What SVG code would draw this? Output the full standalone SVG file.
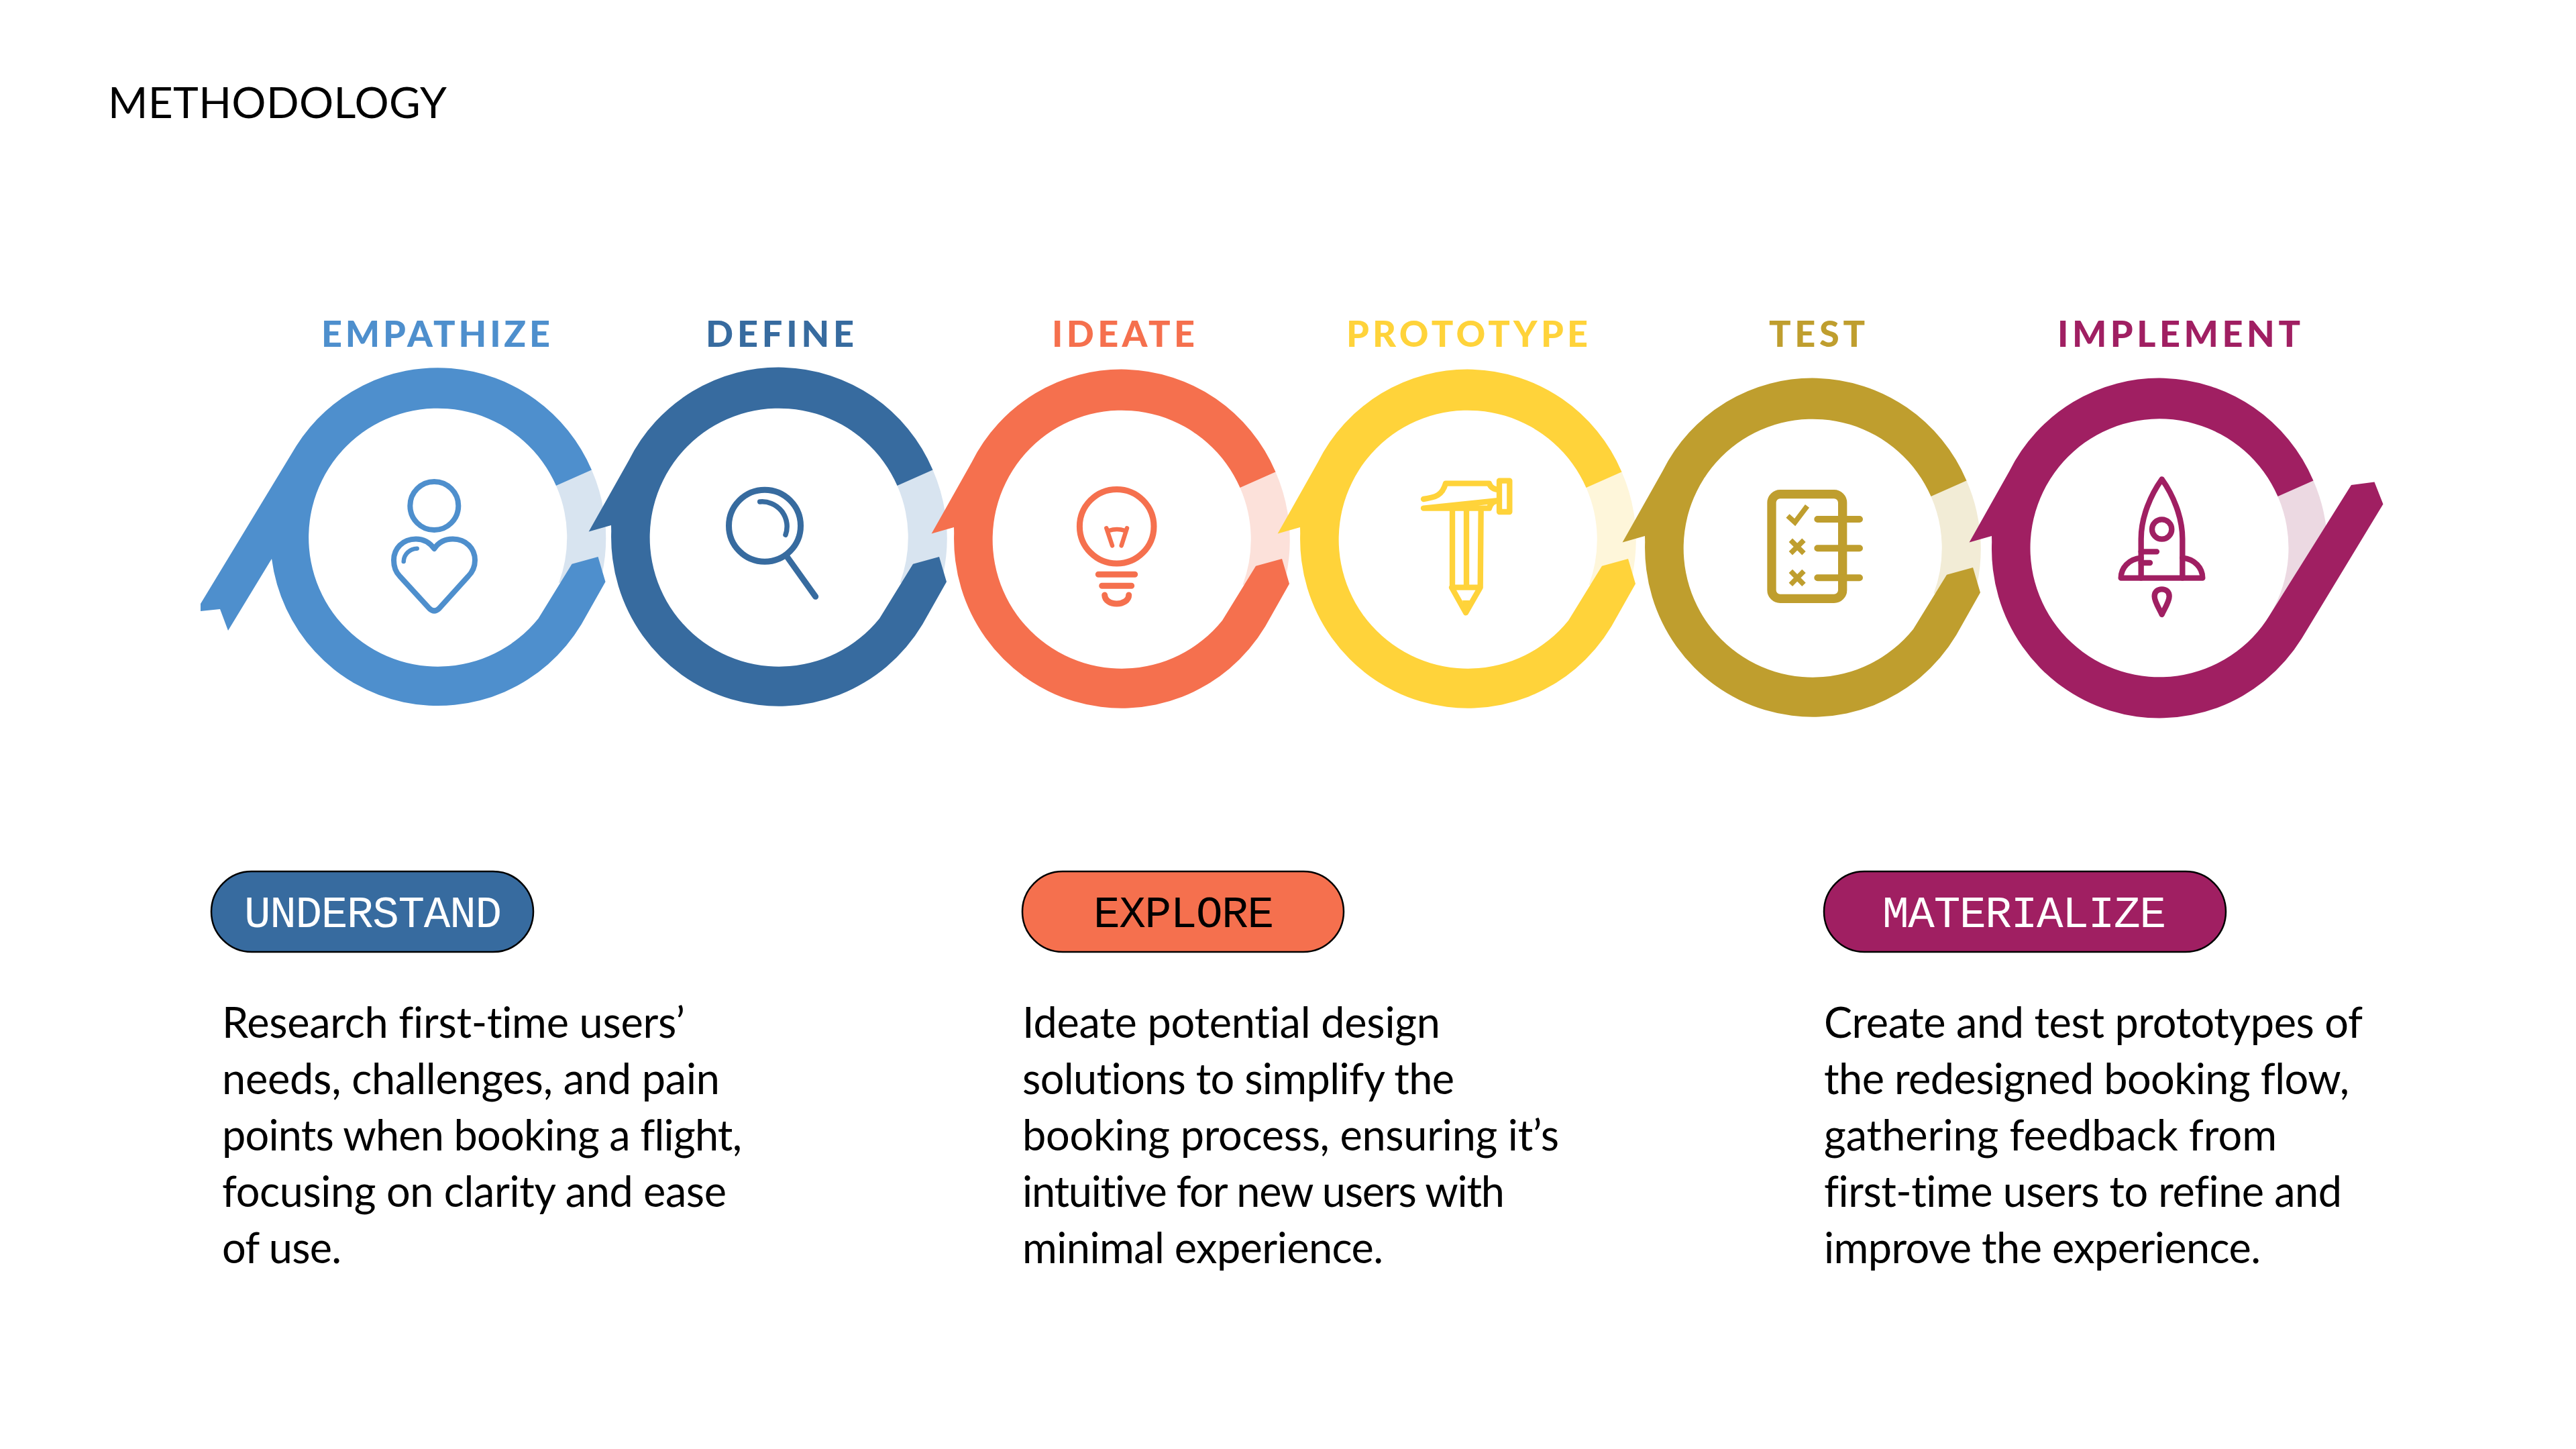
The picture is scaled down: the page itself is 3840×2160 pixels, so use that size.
<svg xmlns="http://www.w3.org/2000/svg" xmlns:xlink="http://www.w3.org/1999/xlink" width="3840" height="2160" viewBox="0 0 3840 2160">
<style>
text{font-family:"Lato","Liberation Sans",sans-serif;font-variant-ligatures:none}
.title{font-size:64px;fill:#000}
.lab{font-size:54px;font-weight:900}
.body{font-size:63px;fill:#000}
.pilltxt{font-family:"Liberation Mono",monospace;font-size:66px}
.pill{stroke:#000;stroke-width:2.5}
.ic{fill:none;stroke-linecap:round;stroke-linejoin:round}
</style>
<defs>
<path id="seg" d="M229.5,-100.5A250,252 0 0 1 245,55L180.5,68A192.5,192.5 0 0 0 176.5,-77Z"/>
<path id="seg6" d="M229.5,-100.5A250,252 0 0 1 245,55L165,99A192.5,192.5 0 0 0 176.5,-77Z"/>
<path id="ring" d="M229.5,-100.5A250,252 0 0 0 -224,-114L-283.4,-8.5L-250,-18L-249.8,-9A250,252 0 0 0 214,130L250,66.3L239,29L200,39.7L150,121A192.5,192.5 0 1 1 176.5,-77Z"/>
<path id="ring1" d="M229.5,-100.5A250,252 0 0 0 -211,-136L-353.5,99L-353.5,110L-324.5,107L-312.5,139L-247.5,32A250,252 0 0 0 214,130L250,66.3L239,29L200,39.7L150,121A192.5,192.5 0 1 1 176.5,-77Z"/>
<path id="ring6" d="M229.5,-100.5A250,252 0 0 0 -224,-114L-283.4,-8.5L-250,-18L-249.8,-9A250,252 0 0 0 212,135L333.5,-65.5L320.5,-98.4L286,-94L165,99A192.5,192.5 0 1 1 176.5,-77Z"/>
</defs>
<rect width="3840" height="2160" fill="#fff"/>
<text class="title" x="161" y="176" textLength="505">METHODOLOGY</text>

<g id="connectors">
<use href="#seg" x="652.5" y="801" fill="#d8e4f0"/>
<use href="#seg" x="1161" y="801" fill="#d8e4f0"/>
<use href="#seg" x="1672" y="804" fill="#fce1da"/>
<use href="#seg" x="2188" y="804" fill="#fef6da"/>
<use href="#seg" x="2702" y="817" fill="#f2ecd6"/>
<use href="#seg6" x="3219" y="817" fill="#ecd9e2"/>
</g>

<g id="node-empathize">
<use href="#ring1" x="652.5" y="801" fill="#4e8fcd"/>
<text class="lab" x="479" y="517" fill="#4e8fcd" textLength="341">EMPATHIZE</text>
<g class="ic" stroke="#4e8fcd" stroke-width="8">
<circle cx="647.3" cy="754" r="36"/>
<path d="M647.3,818C640,808 630,803.5 620,803.5C600,803.5 587,818 587,835C587,845 590,853 596,859L640,907Q647.3,914 654.6,907L698,859C704,853 708,845 708,835C708,818 695,803.5 675,803.5C664,803.5 654,808 647.3,818Z"/>
<path stroke-width="6.5" d="M601.7,837C602,826 611,818 621.7,817.7"/>
</g>
</g>

<g id="node-define">
<use href="#ring" x="1161" y="801" fill="#376b9f"/>
<text class="lab" x="1052" y="517" fill="#376b9f" textLength="221">DEFINE</text>
<g class="ic" stroke="#376b9f" stroke-width="9">
<circle cx="1140" cy="783.7" r="53.5"/>
<path d="M1173.3,830L1215.7,889.3"/>
<path stroke-width="7.5" d="M1132.7,748A37,37 0 0 1 1171,797.3"/>
</g>
</g>

<g id="node-ideate">
<use href="#ring" x="1672" y="804" fill="#f5704e"/>
<text class="lab" x="1568" y="517" fill="#f5704e" textLength="213">IDEATE</text>
<g class="ic" stroke="#f5704e" stroke-width="9">
<circle cx="1664.7" cy="784.7" r="55.3"/>
<path d="M1637.3,856.3H1691.7M1642.7,873.3H1686.7M1646.7,887C1647,895 1655,900 1664.7,900C1674,900 1682.7,895 1682.7,887"/>
<path stroke-width="6.5" d="M1649.3,787.3L1658,813.3M1680,787.3L1671.7,813.3M1653,791Q1665,787 1677,791"/>
</g>
</g>

<g id="node-prototype">
<use href="#ring" x="2188" y="804" fill="#ffd33a"/>
<text class="lab" x="2007" y="517" fill="#ffd33a" textLength="360">PROTOTYPE</text>
<g transform="translate(2060,680) scale(.33333)">
<g class="ic" stroke="#ffd33a" stroke-width="25">
<path d="M186,192C240,185 270,175 285,122H480Q488,148 525,150M525,198Q488,200 480,233H186Z"/>
<rect x="525" y="110" width="46" height="139"/>
<path d="M315,235V587M378,235V587M443,235L440,587M312,587H440L375,700Z"/>
</g>
<path fill="#ffd33a" d="M360,645H393L375,700Z"/>
</g>
</g>

<g id="node-test">
<use href="#ring" x="2702" y="817" fill="#bf9e2e"/>
<text class="lab" x="2637" y="517" fill="#bf9e2e" textLength="143">TEST</text>
<g transform="translate(2580,680) scale(.33333)" fill="none" stroke="#bf9e2e">
<rect x="183" y="170" width="317" height="467" rx="38" stroke-width="40"/>
<path stroke-width="30" stroke-linecap="round" d="M388,282H576M388,412H576M388,544H576"/>
<path stroke-width="23" d="M255,267L287,296L342,223M268,376L327,434M327,376L268,434M268,514L327,574M327,514L268,574"/>
</g>
</g>

<g id="node-implement">
<use href="#ring6" x="3219" y="817" fill="#a01f62"/>
<text class="lab" x="3067" y="517" fill="#a01f62" textLength="362">IMPLEMENT</text>
<g transform="translate(3090,680) scale(.33333)" class="ic" stroke="#a01f62" stroke-width="25">
<path d="M305,545V370C305,270 350,170 398,103C446,170 490,270 490,370V545"/>
<circle cx="398" cy="327" r="44"/>
<path d="M215,545C215,500 250,460 305,455M490,455C545,460 580,500 580,545H215M305,427H375M305,477H345"/>
<path d="M398,708C385,680 365,650 365,627C365,605 380,595 398,595C416,595 431,605 431,627C431,650 411,680 398,708Z"/>
</g>
</g>

<g id="pill-understand">
<rect class="pill" x="315" y="1299" width="480" height="120" rx="60" fill="#376b9f"/>
<text class="pilltxt" x="364" y="1382" fill="#fff" textLength="384">UNDERSTAND</text>
</g>
<g id="pill-explore">
<rect class="pill" x="1524" y="1299" width="479" height="120" rx="60" fill="#f5704e"/>
<text class="pilltxt" x="1630" y="1382" fill="#000" textLength="269">EXPLORE</text>
</g>
<g id="pill-materialize">
<rect class="pill" x="2719" y="1299" width="599" height="120" rx="60" fill="#a01f62"/>
<text class="pilltxt" x="2806" y="1382" fill="#fff" textLength="423">MATERIALIZE</text>
</g>

<g id="text-understand">
<text class="body" x="331" y="1547" textLength="690">Research first-time users’</text>
<text class="body" x="331" y="1631" textLength="742">needs, challenges, and pain</text>
<text class="body" x="331" y="1715" textLength="775">points when booking a flight,</text>
<text class="body" x="331" y="1799" textLength="752">focusing on clarity and ease</text>
<text class="body" x="331" y="1883" textLength="178">of use.</text>
</g>
<g id="text-explore">
<text class="body" x="1524" y="1547" textLength="623">Ideate potential design</text>
<text class="body" x="1524" y="1631" textLength="644">solutions to simplify the</text>
<text class="body" x="1524" y="1715" textLength="800">booking process, ensuring it’s</text>
<text class="body" x="1524" y="1799" textLength="719">intuitive for new users with</text>
<text class="body" x="1524" y="1883" textLength="538">minimal experience.</text>
</g>
<g id="text-materialize">
<text class="body" x="2719" y="1547" textLength="803">Create and test prototypes of</text>
<text class="body" x="2719" y="1631" textLength="783">the redesigned booking flow,</text>
<text class="body" x="2719" y="1715" textLength="675">gathering feedback from</text>
<text class="body" x="2719" y="1799" textLength="772">first-time users to refine and</text>
<text class="body" x="2719" y="1883" textLength="651">improve the experience.</text>
</g>
</svg>
